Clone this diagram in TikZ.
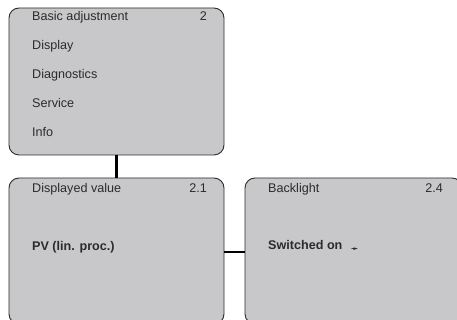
\documentclass[tikz,border=0pt]{standalone}
\usepackage{fontspec}
\setmainfont{Liberation Sans}
\usetikzlibrary{positioning}
\definecolor{panelgray}{HTML}{C8C8CA}
\definecolor{inkgray}{HTML}{2B2B2B}

\begin{document}
\begin{tikzpicture}[x=1pt, y=1pt,
  panel/.style={draw=inkgray, line width=0.9pt, fill=panelgray,
    rounded corners=10pt, inner sep=0pt},
  entry/.style={anchor=base west, inner sep=0pt, text=inkgray,
    font=\fontsize{12.6}{14}\selectfont},
  num/.style={entry, anchor=base east},
  choice/.style={entry, font=\fontsize{12.6}{14}\selectfont\bfseries},
  link/.style={line width=2.7pt, black}]
  \useasboundingbox (0,0) rectangle (457,320);
  \clip (0,0) rectangle (457,320);

  % Menu panels
  \node[panel, minimum width=215pt, minimum height=147pt] (menu) at (116.5,238.5) {};
  \node[panel, minimum width=215pt, minimum height=146pt] (disp) at (116.5,69) {};
  \node[panel, minimum width=217pt, minimum height=146pt] (light) at (353.5,69) {};

  % Connectors
  \draw[link] (menu.south) -- (disp.north);
  \draw[link] ([yshift=-1pt]disp.east) -- ([yshift=-1pt]disp.east -| light.west);

  % Main menu
  \node[entry] (basic) at (32,299) {Basic adjustment};
  \node[num] (basicnr) at (207,299) {2};
  \foreach \name/\txt [count=\i] in {display/Display, diag/Diagnostics,
      service/Service, info/Info}
    \node[entry] (\name) at (32,299-29*\i) {\txt};

  % Displayed value
  \node[entry] (dval) at (32,127.3) {Displayed value};
  \node[num] (dvalnr) at (207,127.3) {2.1};
  \node[choice] (pv) at (32,69.3) {PV (lin. proc.)};

  % Backlight
  \node[entry] (back) at (268,127.3) {Backlight};
  \node[num] (backnr) at (443,127.3) {2.4};
  \node[choice] (sw) at (268,70) {Switched on};
  % selection marker
  \fill[inkgray] ([xshift=8pt,yshift=1.4pt]sw.base east) -- ++(3,0.5) -- ++(0,0.8)
    -- ++(4,-1.3) -- ++(-4,-1.3) -- ++(0,0.8) -- cycle;
\end{tikzpicture}
\end{document}
